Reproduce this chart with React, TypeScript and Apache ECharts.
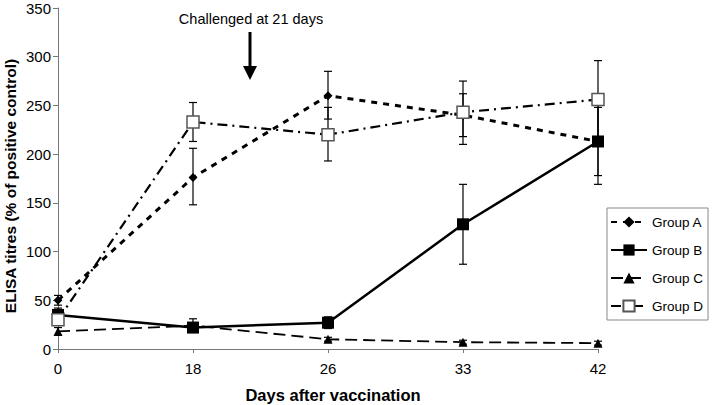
import React, { useEffect, useRef } from "react";
import * as echarts from "echarts";

const days = ["0", "18", "26", "33", "42"];
const yTicks = [0, 50, 100, 150, 200, 250, 300, 350];

const groupA = [50, 176, 260, 240, 213];
const groupB = [35, 22, 27, 128, 213];
const groupC = [18, 24, 10, 7, 6];
const groupD = [30, 233, 220, 243, 256];

// error ranges [low, high]
const errA = [[45, 55], [148, 206], [236, 285], [218, 262], [178, 248]];
const errB = [[28, 42], [18, 27], [21, 33], [87, 169], [169, 257]];
const errC = [[14, 22], [17, 31], [8, 12], [5, 9], [4, 8]];
const errD = [[26, 34], [213, 253], [193, 248], [210, 275], [216, 296]];

const FONT = "Arial, 'Liberation Sans', Helvetica, sans-serif";

function errSeries(name: string, err: number[][]) {
  return {
    type: "custom",
    name: name + "_err",
    data: err.map((e, i) => [i, e[0], e[1]]),
    z: 1,
    silent: true,
    renderItem: (params: any, api: any) => {
      const x = api.value(0);
      const lo = api.coord([x, api.value(1)]);
      const hi = api.coord([x, api.value(2)]);
      const cap = 4;
      const style = { stroke: "#000", lineWidth: 1.2 };
      return {
        type: "group",
        children: [
          { type: "line", shape: { x1: lo[0], y1: lo[1], x2: hi[0], y2: hi[1] }, style },
          { type: "line", shape: { x1: lo[0] - cap, y1: lo[1], x2: lo[0] + cap, y2: lo[1] }, style },
          { type: "line", shape: { x1: hi[0] - cap, y1: hi[1], x2: hi[0] + cap, y2: hi[1] }, style },
        ],
      };
    },
  };
}

export default function App() {
  const ref = useRef<HTMLDivElement>(null);
  useEffect(() => {
    document.body.style.margin = "0";
    if (!ref.current) return;
    const chart = echarts.init(ref.current, null, { renderer: "svg" });
    chart.setOption({
      animation: false,
      backgroundColor: "#fff",
      textStyle: { fontFamily: FONT },
      grid: { left: 58, right: 114, top: 8, bottom: 56, containLabel: false },
      legend: {
        orient: "vertical",
        left: 607,
        top: 208,
        data: ["Group A", "Group B", "Group C", "Group D"],
        itemWidth: 36,
        itemHeight: 14,
        itemGap: 14,
        padding: [7, 5, 7, 3],
        borderColor: "#888",
        borderWidth: 1,
        textStyle: { fontSize: 13.5, color: "#000", fontFamily: FONT },
      },
      xAxis: {
        type: "category",
        data: days,
        boundaryGap: false,
        axisLine: { lineStyle: { color: "#777", width: 1 } },
        axisTick: { show: true, length: 4, alignWithLabel: true, lineStyle: { color: "#777" } },
        axisLabel: { fontSize: 15, color: "#000", margin: 12, fontFamily: FONT },
        splitLine: { show: false },
      },
      yAxis: {
        type: "value",
        min: yTicks[0],
        max: yTicks[yTicks.length - 1],
        interval: 50,
        axisLine: { show: true, lineStyle: { color: "#777", width: 1 } },
        axisTick: { show: true, length: 5, lineStyle: { color: "#777" } },
        axisLabel: { fontSize: 15, color: "#000", margin: 7, fontFamily: FONT },
        splitLine: { show: false },
      },
      series: [
        errSeries("A", errA),
        errSeries("B", errB),
        errSeries("C", errC),
        errSeries("D", errD),
        {
          type: "line",
          name: "Group A",
          data: groupA,
          z: 3,
          symbol: "diamond",
          symbolSize: 9,
          itemStyle: { color: "#000", borderWidth: 0 },
          lineStyle: { color: "#000", width: 3, type: [6, 6] },
        },
        {
          type: "line",
          name: "Group B",
          data: groupB,
          z: 3,
          symbol: "rect",
          symbolSize: 12,
          itemStyle: { color: "#000", borderWidth: 0 },
          lineStyle: { color: "#000", width: 2.5, type: "solid" },
        },
        {
          type: "line",
          name: "Group C",
          data: groupC,
          z: 3,
          symbol: "triangle",
          symbolSize: 9,
          itemStyle: { color: "#000", borderWidth: 0 },
          lineStyle: { color: "#000", width: 1.8, type: [12, 6] },
        },
        {
          type: "line",
          name: "Group D",
          data: groupD,
          z: 4,
          symbol: "rect",
          symbolSize: 12,
          itemStyle: { color: "#fff", borderColor: "#555", borderWidth: 1.5 },
          lineStyle: { color: "#000", width: 2.2, type: [10, 5, 2, 5] },
        },
      ],
      graphic: [
        {
          type: "text",
          x: 251,
          y: 19,
          style: {
            text: "Challenged at 21 days",
            fontSize: 14.5,
            fill: "#000",
            fontFamily: FONT,
            align: "center",
            verticalAlign: "middle",
          },
        },
        {
          type: "text",
          x: 10,
          y: 186,
          rotation: Math.PI / 2,
          style: {
            text: "ELISA titres (% of positive control)",
            fontSize: 15.5,
            fontWeight: "bold",
            fill: "#000",
            fontFamily: FONT,
            align: "center",
            verticalAlign: "middle",
          },
        },
        {
          type: "text",
          x: 333,
          y: 395,
          style: {
            text: "Days after vaccination",
            fontSize: 16.5,
            fontWeight: "bold",
            fill: "#000",
            fontFamily: FONT,
            align: "center",
            verticalAlign: "middle",
          },
        },
        {
          type: "line",
          shape: { x1: 250, y1: 32, x2: 250, y2: 68 },
          style: { stroke: "#000", lineWidth: 3 },
        },
        {
          type: "polygon",
          shape: { points: [[243, 66], [257, 66], [250, 80]] },
          style: { fill: "#000" },
        },
      ],
    });
    return () => chart.dispose();
  }, []);
  return <div ref={ref} style={{ width: 712, height: 405 }} />;
}
